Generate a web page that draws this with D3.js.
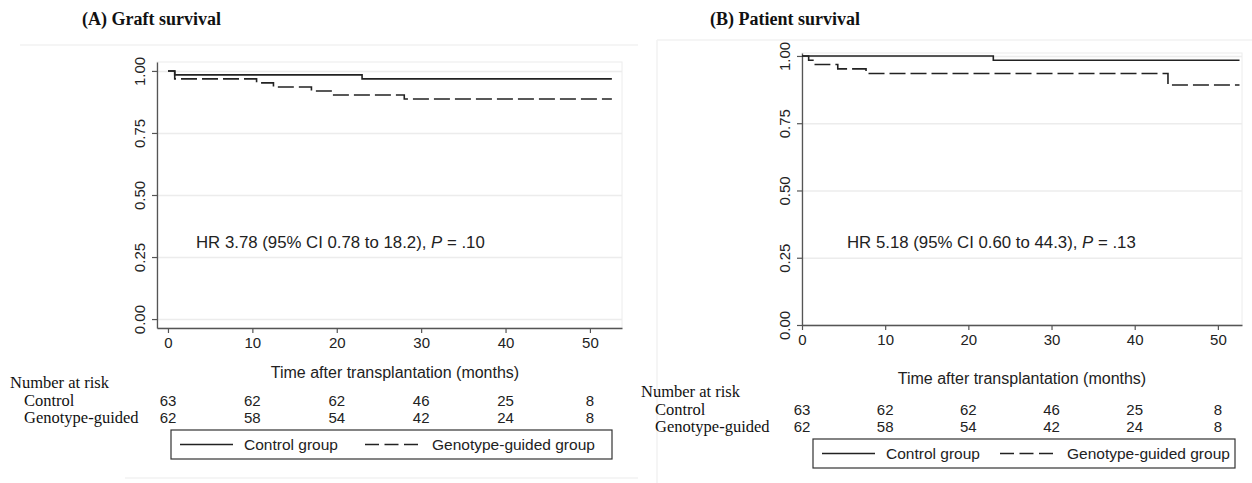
<!DOCTYPE html>
<html>
<head>
<meta charset="utf-8">
<script src="https://cdn.jsdelivr.net/npm/d3@7"></script>
<style>
    body { margin: 0; background: white; }
    svg { display: block; }
</style>
</head>
<body>
<svg id="km-chart"></svg>
<script>
// step data (months, survival probability)
const graftControlTimes = [0, 0.8, 23];
const graftControlSurv = [1, 0.984, 0.968];
const graftGenoTimes = [0, 0.8, 10.5, 12.5, 17, 19.5, 28];
const graftGenoSurv = [1, 0.968, 0.952, 0.935, 0.919, 0.903, 0.887];

const patientControlTimes = [0, 23];
const patientControlSurv = [1, 0.984];
const patientGenoTimes = [0, 0.8, 1.6, 4.3, 7.7, 44];
const patientGenoSurv = [1, 0.984, 0.968, 0.952, 0.935, 0.892];

const followUpEnd = 52.6;

// number at risk table
const riskTimes = [0, 10, 20, 30, 40, 50];
const controlRisk = [63, 62, 62, 46, 25, 8];
const genoRisk = [62, 58, 54, 42, 24, 8];

const xTicks = [0, 10, 20, 30, 40, 50];
const yTicks = [0, 0.25, 0.5, 0.75, 1];
const legendLabels = ["Control group", "Genotype-guided group"];
const riskLabels = ["Number at risk", "Control", "Genotype-guided"];

const SANS = "'Liberation Sans', Arial, sans-serif";
const SERIF = "'Liberation Serif', 'Times New Roman', serif";
const GRID = "#ececec";
const FRAME = "#f2f2f2";
const AXIS = "#555";
const LINE = "#222";

const svg = d3.select("#km-chart")
    .attr("width", 1252)
    .attr("height", 483);

function toSteps(times, surv) {
    const pts = times.map((t, i) => ({ t: t, s: surv[i] }));
    pts.push({ t: followUpEnd, s: surv[surv.length - 1] });
    return pts;
}

function drawPanel(cfg) {
    const x = d3.scaleLinear().domain(cfg.xDomain).range([cfg.left, cfg.right]);
    const y = d3.scaleLinear().domain(cfg.yDomain).range([cfg.bottom, cfg.top]);

    //faint graph region edges
    cfg.regionLines.forEach(l => {
        svg.append("line")
            .attr("x1", l[0]).attr("y1", l[1])
            .attr("x2", l[2]).attr("y2", l[3])
            .style("stroke", FRAME)
            .style("stroke-width", 1.5);
    });

    //title
    svg.append("text")
        .attr("x", cfg.titleX)
        .attr("y", 25)
        .style("font-family", SERIF)
        .style("font-size", "18px")
        .style("font-weight", "bold")
        .style("fill", "#111")
        .text(cfg.title);

    //plot region frame
    svg.append("rect")
        .attr("x", cfg.left).attr("y", cfg.top)
        .attr("width", cfg.right - cfg.left)
        .attr("height", cfg.bottom - cfg.top)
        .style("fill", "none")
        .style("stroke", GRID)
        .style("stroke-width", 1);

    //horizontal grid
    const gridG = svg.append("g")
        .attr("transform", `translate(${cfg.left},0)`)
        .style("color", GRID);
    d3.axisLeft(y)
        .tickValues(yTicks)
        .tickSize(-(cfg.right - cfg.left))
        .tickFormat("")(gridG);
    gridG.select(".domain").remove();
    gridG.selectAll("line").style("stroke-width", 1.5);

    //y axis
    const yG = svg.append("g")
        .attr("transform", `translate(${cfg.left},0)`);
    d3.axisLeft(y)
        .tickValues(yTicks)
        .tickSize(5)
        .tickSizeOuter(0)
        .tickFormat(d3.format(".2f"))(yG);
    yG.select(".domain").style("stroke", AXIS).style("stroke-width", 1.3);
    yG.selectAll(".tick line").style("stroke", AXIS).style("stroke-width", 1.2);
    yG.selectAll(".tick text")
        .attr("x", null).attr("dy", null)
        .attr("transform", `translate(${cfg.yLabelX},0) rotate(-90)`)
        .attr("text-anchor", "middle")
        .style("font-family", SANS)
        .style("font-size", "15px")
        .style("fill", "#222");

    //x axis
    const xG = svg.append("g")
        .attr("transform", `translate(0,${cfg.bottom})`);
    d3.axisBottom(x)
        .tickValues(xTicks)
        .tickSize(5)
        .tickSizeOuter(0)
        .tickPadding(4)(xG);
    xG.select(".domain").style("stroke", AXIS).style("stroke-width", 1.3);
    xG.selectAll(".tick line").style("stroke", AXIS).style("stroke-width", 1.2);
    xG.selectAll(".tick text")
        .style("font-family", SANS)
        .style("font-size", "15px")
        .style("fill", "#222");

    svg.append("text")
        .attr("x", (x(0) + cfg.right) / 2)
        .attr("y", cfg.xTitleY)
        .attr("text-anchor", "middle")
        .style("font-family", SANS)
        .style("font-size", "16px")
        .style("fill", "#222")
        .text("Time after transplantation (months)");

    //curves
    const line = d3.line()
        .x(d => x(d.t))
        .y(d => y(d.s))
        .curve(d3.curveStepAfter);

    svg.append("path")
        .datum(toSteps(cfg.controlTimes, cfg.controlSurv))
        .attr("d", line)
        .style("fill", "none")
        .style("stroke", LINE)
        .style("stroke-width", 1.6);

    svg.append("path")
        .datum(toSteps(cfg.genoTimes, cfg.genoSurv))
        .attr("d", line)
        .style("fill", "none")
        .style("stroke", LINE)
        .style("stroke-width", 1.6)
        .style("stroke-dasharray", "16,5");

    //hazard ratio
    const hr = svg.append("text")
        .attr("x", cfg.hrX)
        .attr("y", 248)
        .style("font-family", SANS)
        .style("font-size", "16.8px")
        .style("fill", "#222");
    hr.append("tspan").text(cfg.hrText + " ");
    hr.append("tspan").style("font-style", "italic").text("P");
    hr.append("tspan").text(" = " + cfg.pText);

    //number at risk
    const riskRows = [cfg.riskY, cfg.riskY + 17];
    svg.append("text")
        .attr("x", cfg.riskLabelX)
        .attr("y", cfg.riskY - 18)
        .style("font-family", SERIF)
        .style("font-size", "16.5px")
        .style("fill", "#111")
        .text(riskLabels[0]);
    [riskLabels[1], riskLabels[2]].forEach((lab, i) => {
        svg.append("text")
            .attr("x", cfg.riskLabelX + 14)
            .attr("y", riskRows[i])
            .style("font-family", SERIF)
            .style("font-size", "16.5px")
            .style("fill", "#111")
            .text(lab);
    });
    [controlRisk, genoRisk].forEach((row, i) => {
        svg.selectAll(null)
            .data(riskTimes)
            .enter()
            .append("text")
            .attr("x", d => x(d))
            .attr("y", riskRows[i])
            .attr("text-anchor", "middle")
            .style("font-family", SANS)
            .style("font-size", "15px")
            .style("fill", "#222")
            .text((d, j) => row[j]);
    });

    //legend
    const lg = cfg.legend;
    svg.append("rect")
        .attr("x", lg.x0).attr("y", lg.y0)
        .attr("width", lg.x1 - lg.x0)
        .attr("height", lg.y1 - lg.y0)
        .style("fill", "white")
        .style("stroke", "#333")
        .style("stroke-width", 1.2);
    const ly = (lg.y0 + lg.y1) / 2;
    svg.append("line")
        .attr("x1", lg.x0 + 9).attr("x2", lg.x0 + 62)
        .attr("y1", ly).attr("y2", ly)
        .style("stroke", LINE).style("stroke-width", 1.6);
    svg.append("text")
        .attr("x", lg.x0 + 73).attr("y", ly + 5.5)
        .style("font-family", SANS).style("font-size", "15.5px").style("fill", "#222")
        .text(legendLabels[0]);
    svg.append("line")
        .attr("x1", lg.dashX).attr("x2", lg.dashX + 53)
        .attr("y1", ly).attr("y2", ly)
        .style("stroke", LINE).style("stroke-width", 1.6)
        .style("stroke-dasharray", "14,5.5");
    svg.append("text")
        .attr("x", lg.dashX + 67).attr("y", ly + 5.5)
        .style("font-family", SANS).style("font-size", "15.5px").style("fill", "#222")
        .text(legendLabels[1]);
}

//(A) graft survival
drawPanel({
    title: "(A) Graft survival",
    titleX: 82,
    regionLines: [[20, 45, 638, 45], [125, 478, 638, 478]],
    left: 157, right: 622, top: 62, bottom: 328,
    xDomain: [-1.3, 53.8],
    yDomain: [-0.036, 1.036],
    yLabelX: -12,
    xTitleY: 378,
    controlTimes: graftControlTimes, controlSurv: graftControlSurv,
    genoTimes: graftGenoTimes, genoSurv: graftGenoSurv,
    hrX: 196,
    hrText: "HR 3.78 (95% CI 0.78 to 18.2),",
    pText: ".10",
    riskLabelX: 10,
    riskY: 406,
    legend: { x0: 171, x1: 612, y0: 430, y1: 459, dashX: 365 }
});

//(B) patient survival
drawPanel({
    title: "(B) Patient survival",
    titleX: 710,
    regionLines: [[657, 40, 1252, 40], [657, 40, 657, 483]],
    left: 802, right: 1242, top: 53, bottom: 325,
    xDomain: [0, 52.9],
    yDomain: [0, 1.011],
    yLabelX: -12,
    xTitleY: 384,
    controlTimes: patientControlTimes, controlSurv: patientControlSurv,
    genoTimes: patientGenoTimes, genoSurv: patientGenoSurv,
    hrX: 847,
    hrText: "HR 5.18 (95% CI 0.60 to 44.3),",
    pText: ".13",
    riskLabelX: 641,
    riskY: 415,
    legend: { x0: 813, x1: 1235, y0: 439, y1: 468, dashX: 1000 }
});
</script>
</body>
</html>
